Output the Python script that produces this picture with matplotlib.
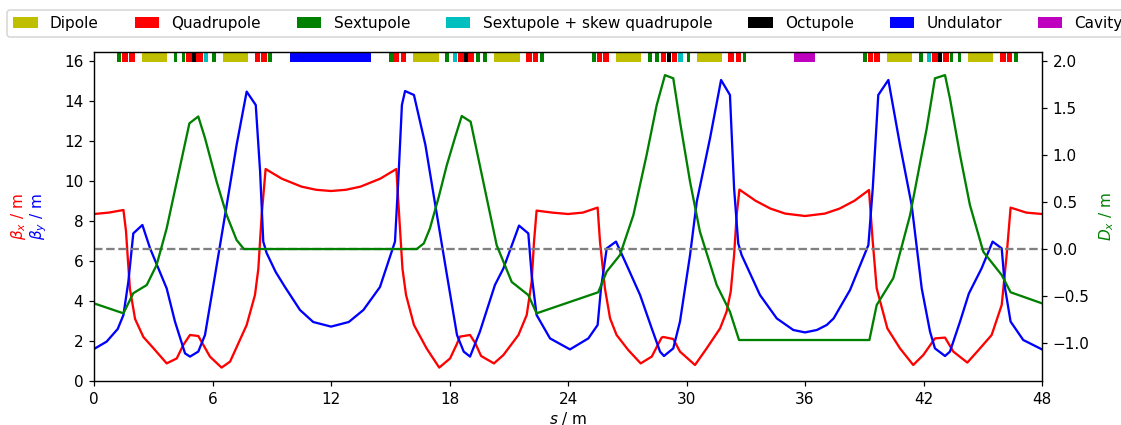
import matplotlib
matplotlib.use("Agg")
import matplotlib.pyplot as plt
from matplotlib.patches import Patch

# Optics along the ring (s in m)
s_bx = [0, 0.75, 1.49, 1.62, 1.72, 1.82, 2.08, 2.5, 3.0, 3.68, 4.19, 4.52, 4.86, 5.28,
        5.54, 5.87, 6.46, 6.89, 7.73, 8.15, 8.32, 8.49, 8.69, 9.5, 10.5, 11.25, 12.0,
        12.75, 13.5, 14.5, 15.31, 15.45, 15.62, 15.8, 16.2, 16.84, 17.48, 18.03, 18.35,
        18.53, 19.04, 19.3, 19.6, 20.25, 20.73, 21.49, 21.91, 22.16, 22.28, 22.41, 23.2,
        24.0, 24.75, 25.5, 25.62, 25.87, 26.13, 26.46, 27.05, 27.68, 28.24, 28.74, 28.83,
        29.33, 29.67, 30.43, 31.02, 31.7, 32.03, 32.24, 32.41, 32.54, 32.68, 33.5, 34.25,
        35.0, 36.0, 37.0, 37.75, 38.5, 39.24, 39.43, 39.63, 40.17, 40.81, 41.48, 41.99,
        42.58, 43.09, 43.51, 44.22, 44.86, 45.45, 45.96, 46.21, 46.41, 47.2, 48.0]
beta_x = [8.35, 8.42, 8.55, 7.5, 6.0, 4.6, 3.1, 2.2, 1.65, 0.88, 1.13, 1.8, 2.3, 2.25,
          1.8, 1.22, 0.67, 0.97, 2.8, 4.3, 5.6, 8.3, 10.6, 10.12, 9.72, 9.56, 9.5,
          9.56, 9.72, 10.12, 10.6, 8.3, 5.6, 4.3, 2.8, 1.63, 0.67, 1.13, 1.8,
          2.22, 2.3, 1.9, 1.25, 0.88, 1.3, 2.3, 3.3, 4.97, 6.97, 8.52, 8.42,
          8.35, 8.42, 8.67, 6.97, 4.63, 3.13, 2.3, 1.55, 0.88, 1.22, 2.17, 2.2,
          2.1, 1.47, 0.8, 1.63, 2.63, 3.47, 4.47, 6.3, 8.3, 9.57, 9.01, 8.62,
          8.37, 8.25, 8.37, 8.62, 9.01, 9.55, 6.97, 4.63, 2.63, 1.63, 0.8, 1.3,
          2.13, 2.17, 1.47, 0.92, 1.63, 2.3, 3.8, 6.3, 8.67, 8.42, 8.35]

s_by = [0, 0.64, 1.2, 1.49, 1.74, 1.99, 2.45, 2.84, 3.68, 4.1, 4.61, 4.86, 5.28, 5.62,
        6.13, 6.72, 7.22, 7.73, 8.19, 8.41, 8.57, 8.74, 9.2, 9.67, 10.43, 11.1, 12.0,
        12.9, 13.64, 14.48, 15.24, 15.43, 15.59, 15.75, 16.2, 16.78, 17.28, 17.87, 18.38,
        18.72, 19.04, 19.54, 20.3, 20.73, 21.52, 21.99, 22.16, 22.41, 23.09, 24.1,
        25.03, 25.5, 25.67, 25.96, 26.43, 26.97, 27.65, 28.24, 28.66, 28.86, 29.33, 29.67,
        30.18, 30.52, 31.19, 31.75, 32.2, 32.41, 32.62, 32.79, 33.72, 34.57, 35.41, 36.0,
        36.6, 37.1, 37.45, 38.28, 39.21, 39.43, 39.71, 40.22, 40.81, 41.4, 41.91, 42.33,
        42.58, 43.09, 43.34, 43.85, 44.3, 44.94, 45.5, 45.96, 46.13, 46.41, 47.05, 48.0]
beta_y = [1.6, 1.97, 2.6, 3.3, 4.97, 7.38, 7.8, 6.63, 4.63, 2.97, 1.38, 1.22, 1.47, 2.3,
          5.3, 8.8, 11.8, 14.47, 13.8, 10.47, 6.97, 6.4, 5.45, 4.7, 3.55, 2.95, 2.72,
          2.95, 3.55, 4.7, 6.97, 10.47, 13.8, 14.5, 14.3, 11.8, 8.8, 5.3, 2.3,
          1.47, 1.22, 2.47, 4.8, 5.63, 7.77, 7.38, 5.3, 3.3, 2.13, 1.58,
          2.13, 2.8, 4.63, 6.63, 6.97, 5.8, 4.3, 2.63, 1.47, 1.25, 1.63, 2.97,
          6.3, 8.97, 12.13, 15.05, 14.3, 9.63, 6.88, 6.3, 4.3, 3.13, 2.55, 2.43,
          2.55, 2.8, 3.13, 4.55, 6.8, 9.63, 14.3, 15.05, 11.8, 8.8, 4.63, 2.47,
          1.63, 1.25, 1.47, 2.97, 4.38, 5.63, 6.97, 6.63, 4.63, 2.97, 2.05, 1.58]

s_dx = [0, 1.49, 1.99, 2.67, 3.17, 3.68, 4.19, 4.83, 5.28, 5.62, 6.21, 6.72, 7.22, 7.59,
        16.34, 16.7, 17.01, 17.45, 17.86, 18.3, 18.62, 19.07, 19.71, 20.39, 21.15, 21.99,
        22.41, 25.53, 25.96, 26.63, 27.31, 27.98, 28.49, 28.91, 29.33, 29.67, 30.18,
        30.68, 31.53, 32.2, 32.66, 39.26, 39.63, 40.47, 41.32, 42.16, 42.58, 43.09, 43.34,
        43.85, 44.35, 45.03, 45.96, 46.41, 48.0]
disp_x = [-0.578, -0.684, -0.47, -0.383, -0.17, 0.22, 0.716, 1.337, 1.41, 1.18, 0.716,
          0.36, 0.096, 0.0, 0.0, 0.06, 0.22, 0.55, 0.89, 1.2, 1.415, 1.355, 0.716, 0.04,
          -0.35, -0.49, -0.684, -0.46, -0.24, -0.064, 0.36, 1.0, 1.53, 1.85, 1.816,
          1.355, 0.716, 0.184, -0.383, -0.667, -0.968, -0.968, -0.596, -0.31, 0.36,
          1.28, 1.816, 1.85, 1.6, 1.0, 0.468, -0.03, -0.277, -0.46, -0.578]

# Magnet layout: (start, end) in m for each element family
dipoles = [(2.41, 3.70), (6.51, 7.80), (16.17, 17.45), (20.27, 21.55),
           (26.43, 27.70), (30.52, 31.80), (40.17, 41.43), (44.27, 45.53)]
quadrupoles = [(1.43, 1.71), (1.79, 2.06), (4.66, 4.95), (5.16, 5.50), (8.15, 8.42),
               (8.46, 8.74), (15.15, 15.46), (15.53, 15.80), (18.45, 18.73),
               (18.95, 19.24), (21.87, 22.16), (22.24, 22.50), (25.45, 25.71),
               (25.79, 26.08), (28.69, 28.96), (29.25, 29.53), (32.12, 32.41),
               (32.49, 32.76), (39.17, 39.43), (39.50, 39.80), (42.43, 42.72),
               (42.97, 43.27), (45.87, 46.16), (46.21, 46.50)]
sextupoles = [(1.18, 1.37), (4.03, 4.22), (4.44, 4.61), (5.99, 6.18), (8.83, 9.00),
              (14.94, 15.12), (17.77, 17.97), (19.34, 19.54), (19.71, 19.91),
              (22.58, 22.78), (25.20, 25.40), (28.03, 28.24), (28.40, 28.60),
              (30.01, 30.18), (32.84, 33.01), (38.95, 39.12), (41.79, 41.96),
              (43.34, 43.51), (43.73, 43.90), (46.58, 46.77)]
skew_sextupoles = [(5.55, 5.79), (18.16, 18.40), (29.59, 29.81), (42.16, 42.38)]
octupoles = [(4.95, 5.16), (18.73, 18.95), (28.99, 29.20), (42.75, 42.95)]
undulators = [(9.92, 14.05)]
cavities = [(35.44, 36.52)]

families = [("Dipole", dipoles, "y"),
            ("Quadrupole", quadrupoles, "r"),
            ("Sextupole", sextupoles, "g"),
            ("Sextupole + skew quadrupole", skew_sextupoles, "c"),
            ("Octupole", octupoles, "k"),
            ("Undulator", undulators, "b"),
            ("Cavity", cavities, "m")]

fig = plt.figure(figsize=(1121 / 110, 425 / 110), dpi=110)
ax = fig.add_axes([94 / 1121, 1 - 381 / 425, 948 / 1121, 329 / 425])
ax2 = ax.twinx()

ax.plot(s_bx, beta_x, color="r")
ax.plot(s_by, beta_y, color="b")

handles = []
for name, spans, color in families:
    ax.broken_barh([(a, b - a) for a, b in spans], (15.97, 0.6),
                   facecolors=color, linewidth=0)
    handles.append(Patch(facecolor=color, label=name))

ax2.axhline(0, color="gray", ls="--")
ax2.plot(s_dx, disp_x, color="g")

ax.set_xlim(0, 48)
ax.set_ylim(0, 16.45)
ax2.set_ylim(-1.404, 2.096)
ax.set_xticks(range(0, 49, 6))
ax.set_yticks(range(0, 17, 2))

ax.set_xlabel("$s$ / m", labelpad=2)
ax.text(-0.080, 0.5, r"$\beta_x$ / m", color="r", rotation=90,
        ha="center", va="center", transform=ax.transAxes)
ax.text(-0.058, 0.5, r"$\beta_y$ / m", color="b", rotation=90,
        ha="center", va="center", transform=ax.transAxes)
ax2.set_ylabel("$D_x$ / m", color="g", labelpad=5)

ax2.legend(handles=handles, loc="lower center", bbox_to_anchor=(0.5, 1.022),
           ncol=7, handlelength=1.6, columnspacing=2.35)

fig.savefig("out.png", dpi=110)
